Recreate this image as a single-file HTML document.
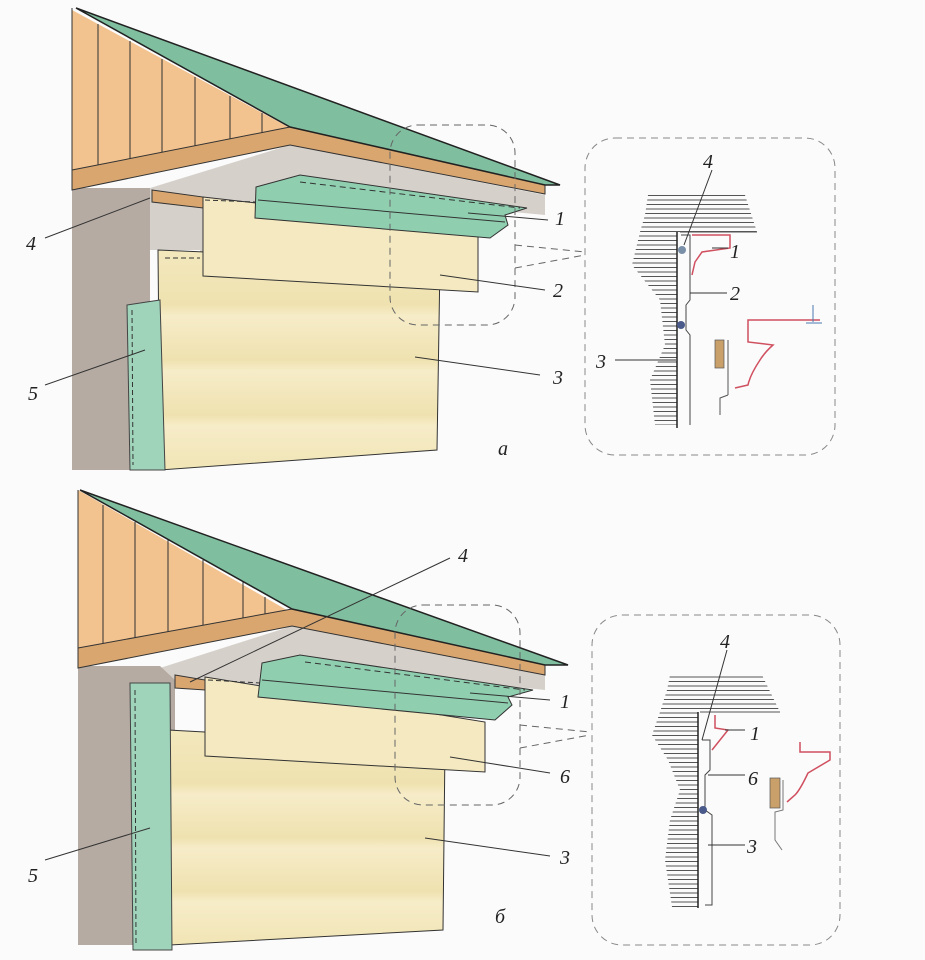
<!DOCTYPE html>
<html><head><meta charset="utf-8"><style>html,body{margin:0;padding:0;background:#fbfbfb}svg{display:block}
text{font-family:"Liberation Serif",serif;font-style:italic;font-size:20px;fill:#222}</style></head>
<body>
<svg width="925" height="960" viewBox="0 0 925 960" xmlns="http://www.w3.org/2000/svg">
<defs>
<pattern id="h" width="10" height="4.5" patternUnits="userSpaceOnUse"><line x1="0" y1="2" x2="10" y2="2" stroke="#555" stroke-width="1"/></pattern>
<linearGradient id="sid" x1="0" y1="0" x2="0" y2="1">
<stop offset="0" stop-color="#f3e8bd"/><stop offset="0.25" stop-color="#efe2b0"/><stop offset="0.3" stop-color="#f6ecc8"/><stop offset="0.5" stop-color="#efe2b0"/><stop offset="0.55" stop-color="#f6ecc8"/><stop offset="0.75" stop-color="#efe2b0"/><stop offset="0.8" stop-color="#f6ecc8"/><stop offset="1" stop-color="#f1e5b5"/></linearGradient>
</defs>
<rect width="925" height="960" fill="#fbfbfb"/>

<!-- ===== TOP HOUSE ===== -->
<polygon points="72,10 290,128 72,172" fill="#f2c28f"/>
<g stroke="#333" stroke-width="1">
<line x1="98" y1="24" x2="98" y2="167"/><line x1="130" y1="41" x2="130" y2="161"/><line x1="162" y1="59" x2="162" y2="155"/><line x1="195" y1="77" x2="195" y2="149"/><line x1="230" y1="96" x2="230" y2="141"/><line x1="262" y1="113" x2="262" y2="135"/></g>
<polygon points="150,188 290,145 545,195 545,215 440,205 440,260 200,260 200,250 150,250" fill="#d6d0ca"/>
<polygon points="72,188 150,188 150,470 72,470" fill="#b5aba3"/>
<polygon points="72,170 290,127 545,183 545,194 290,145 72,190" fill="#d9a66f" stroke="#333" stroke-width="1"/>
<polygon points="76,8 560,185 545,185 290,127" fill="#7fbf9f" stroke="#222" stroke-width="1.5"/>
<line x1="72" y1="8" x2="72" y2="190" stroke="#333"/>
<polygon points="152,190 203,197 203,208 152,202" fill="#d9a66f" stroke="#333" stroke-width="1"/>
<polygon points="158,250 440,262 437,450 160,470" fill="url(#sid)" stroke="#333" stroke-width="1"/>
<line x1="165" y1="258" x2="200" y2="258" stroke="#333" stroke-dasharray="5,3"/>
<polygon points="203,197 478,228 478,292 203,276" fill="#f4e9c0" stroke="#333" stroke-width="1"/>
<line x1="205" y1="200" x2="255" y2="202" stroke="#333" stroke-dasharray="5,3"/>
<polygon points="256,187 300,175 527,208 505,215 508,225 490,238 255,218" fill="#8fcfb0" stroke="#333" stroke-width="1"/>
<line x1="300" y1="182" x2="520" y2="208" stroke="#333" stroke-dasharray="6,4"/>
<line x1="258" y1="200" x2="505" y2="222" stroke="#333"/>
<polygon points="127,305 160,300 165,470 130,470" fill="#9fd4bb" stroke="#444" stroke-width="1"/>
<line x1="132" y1="310" x2="133" y2="465" stroke="#333" stroke-dasharray="5,3"/>
<rect x="390" y="125" width="125" height="200" rx="28" fill="none" stroke="#666" stroke-dasharray="7,5"/>
<g stroke="#666" stroke-dasharray="7,5" fill="none"><line x1="515" y1="245" x2="585" y2="252"/><line x1="515" y1="268" x2="585" y2="255"/></g>
<g stroke="#333" stroke-width="1"><line x1="45" y1="238" x2="150" y2="198"/><line x1="45" y1="385" x2="145" y2="350"/><line x1="468" y1="213" x2="548" y2="220"/><line x1="440" y1="275" x2="545" y2="290"/><line x1="415" y1="357" x2="540" y2="375"/></g>
<text x="26" y="250">4</text><text x="28" y="400">5</text><text x="555" y="225">1</text><text x="553" y="297">2</text><text x="553" y="384">3</text><text x="498" y="455">a</text>

<!-- top detail -->
<rect x="585" y="138" width="250" height="317" rx="30" fill="none" stroke="#888" stroke-dasharray="7,5"/>
<polygon points="648,195 745,195 757,232 677,232 677,425 655,425 650,380 665,345 660,300 632,265 640,232 645,215" fill="url(#h)"/>
<line x1="677" y1="232" x2="677" y2="428" stroke="#222" stroke-width="1.5"/>
<line x1="680" y1="232" x2="757" y2="232" stroke="#555"/>
<polyline points="681,235 690,235 690,300 686,305 686,330 690,335 690,425" fill="none" stroke="#444"/>
<circle cx="682" cy="250" r="4" fill="#7a8fa8"/><circle cx="681" cy="325" r="4" fill="#4a5a8a"/>
<polyline points="692,235 730,235 730,248 702,252 695,262 692,275" fill="none" stroke="#d05060" stroke-width="1.5"/>
<path d="M820,320 L748,320 L748,342 L773,345 Q765,352 760,360 Q750,375 748,385 L735,388" fill="none" stroke="#d05060" stroke-width="1.5"/>
<line x1="813" y1="305" x2="813" y2="322" stroke="#4a7ab0"/><line x1="806" y1="323" x2="822" y2="323" stroke="#4a7ab0"/>
<rect x="715" y="340" width="9" height="28" fill="#c9a06a" stroke="#555" stroke-width=".7"/>
<line x1="728" y1="340" x2="728" y2="395" stroke="#555"/><polyline points="728,395 720,398 720,415" fill="none" stroke="#555"/>
<g stroke="#333"><line x1="712" y1="170" x2="684" y2="245"/><line x1="712" y1="248" x2="728" y2="248"/><line x1="690" y1="293" x2="727" y2="293"/><line x1="615" y1="360" x2="676" y2="360"/></g>
<text x="703" y="168">4</text><text x="730" y="258">1</text><text x="730" y="300">2</text><text x="596" y="368">3</text>

<!-- ===== BOTTOM HOUSE ===== -->
<polygon points="78,490 292,613 78,650" fill="#f2c28f"/>
<g stroke="#333" stroke-width="1">
<line x1="103" y1="505" x2="103" y2="645"/><line x1="135" y1="522" x2="135" y2="640"/><line x1="168" y1="540" x2="168" y2="635"/><line x1="203" y1="560" x2="203" y2="628"/><line x1="243" y1="582" x2="243" y2="620"/><line x1="265" y1="597" x2="265" y2="617"/></g>
<polygon points="160,668 292,626 545,675 545,690 445,680 445,735 205,735 205,690 175,680 160,680" fill="#d6d0ca"/>
<polygon points="78,666 160,666 175,680 175,945 78,945" fill="#b5aba3"/>
<polygon points="78,648 292,609 545,665 545,675 292,626 78,668" fill="#d9a66f" stroke="#333" stroke-width="1"/>
<polygon points="80,490 568,665 545,665 292,609" fill="#7fbf9f" stroke="#222" stroke-width="1.5"/>
<line x1="78" y1="490" x2="78" y2="668" stroke="#333"/>
<polygon points="175,675 205,680 205,690 175,688" fill="#d9a66f" stroke="#333" stroke-width="1"/>
<polygon points="168,730 445,745 443,930 170,945" fill="url(#sid)" stroke="#333" stroke-width="1"/>
<polygon points="205,677 485,722 485,772 205,756" fill="#f4e9c0" stroke="#333" stroke-width="1"/>
<line x1="208" y1="680" x2="260" y2="683" stroke="#333" stroke-dasharray="5,3"/>
<polygon points="262,663 300,655 533,690 508,697 512,705 495,720 258,697" fill="#8fcfb0" stroke="#333" stroke-width="1"/>
<line x1="305" y1="662" x2="525" y2="690" stroke="#333" stroke-dasharray="6,4"/>
<line x1="262" y1="680" x2="508" y2="703" stroke="#333"/>
<polygon points="130,683 170,683 172,950 133,950" fill="#9fd4bb" stroke="#444" stroke-width="1"/>
<line x1="135" y1="690" x2="136" y2="945" stroke="#333" stroke-dasharray="5,3"/>
<rect x="395" y="605" width="125" height="200" rx="28" fill="none" stroke="#666" stroke-dasharray="7,5"/>
<g stroke="#666" stroke-dasharray="7,5" fill="none"><line x1="520" y1="725" x2="590" y2="732"/><line x1="520" y1="748" x2="590" y2="735"/></g>
<g stroke="#333" stroke-width="1"><line x1="45" y1="860" x2="150" y2="828"/><line x1="190" y1="682" x2="450" y2="558"/><line x1="470" y1="693" x2="550" y2="700"/><line x1="450" y1="757" x2="550" y2="773"/><line x1="425" y1="838" x2="550" y2="856"/></g>
<text x="28" y="882">5</text><text x="458" y="562">4</text><text x="560" y="708">1</text><text x="560" y="783">6</text><text x="560" y="864">3</text><text x="495" y="923">б</text>

<!-- bottom detail -->
<rect x="592" y="615" width="248" height="330" rx="30" fill="none" stroke="#888" stroke-dasharray="7,5"/>
<polygon points="670,675 762,675 780,712 698,712 698,907 672,907 665,860 670,820 680,790 668,760 652,735 660,712 667,690" fill="url(#h)"/>
<line x1="698" y1="712" x2="698" y2="908" stroke="#222" stroke-width="1.5"/>
<line x1="700" y1="712" x2="780" y2="712" stroke="#555"/>
<polyline points="702,740 710,740 710,770 705,775 705,810 712,815 712,905 705,905" fill="none" stroke="#444"/>
<circle cx="703" cy="810" r="4" fill="#4a5a8a"/>
<polyline points="715,715 715,728 728,730 720,740 712,750" fill="none" stroke="#d05060" stroke-width="1.5"/>
<path d="M800,742 L800,752 L830,752 L830,760 L808,773 Q800,790 795,795 L787,802" fill="none" stroke="#d05060" stroke-width="1.5"/>
<rect x="770" y="778" width="10" height="30" fill="#c9a06a" stroke="#555" stroke-width=".7"/>
<polyline points="783,780 783,810 775,812 775,840 782,850" fill="none" stroke="#777"/>
<g stroke="#333"><line x1="727" y1="650" x2="702" y2="740"/><line x1="725" y1="730" x2="745" y2="730"/><line x1="708" y1="775" x2="745" y2="775"/><line x1="708" y1="845" x2="745" y2="845"/></g>
<text x="720" y="648">4</text><text x="750" y="740">1</text><text x="748" y="785">6</text><text x="747" y="853">3</text>
</svg>
</body></html>
